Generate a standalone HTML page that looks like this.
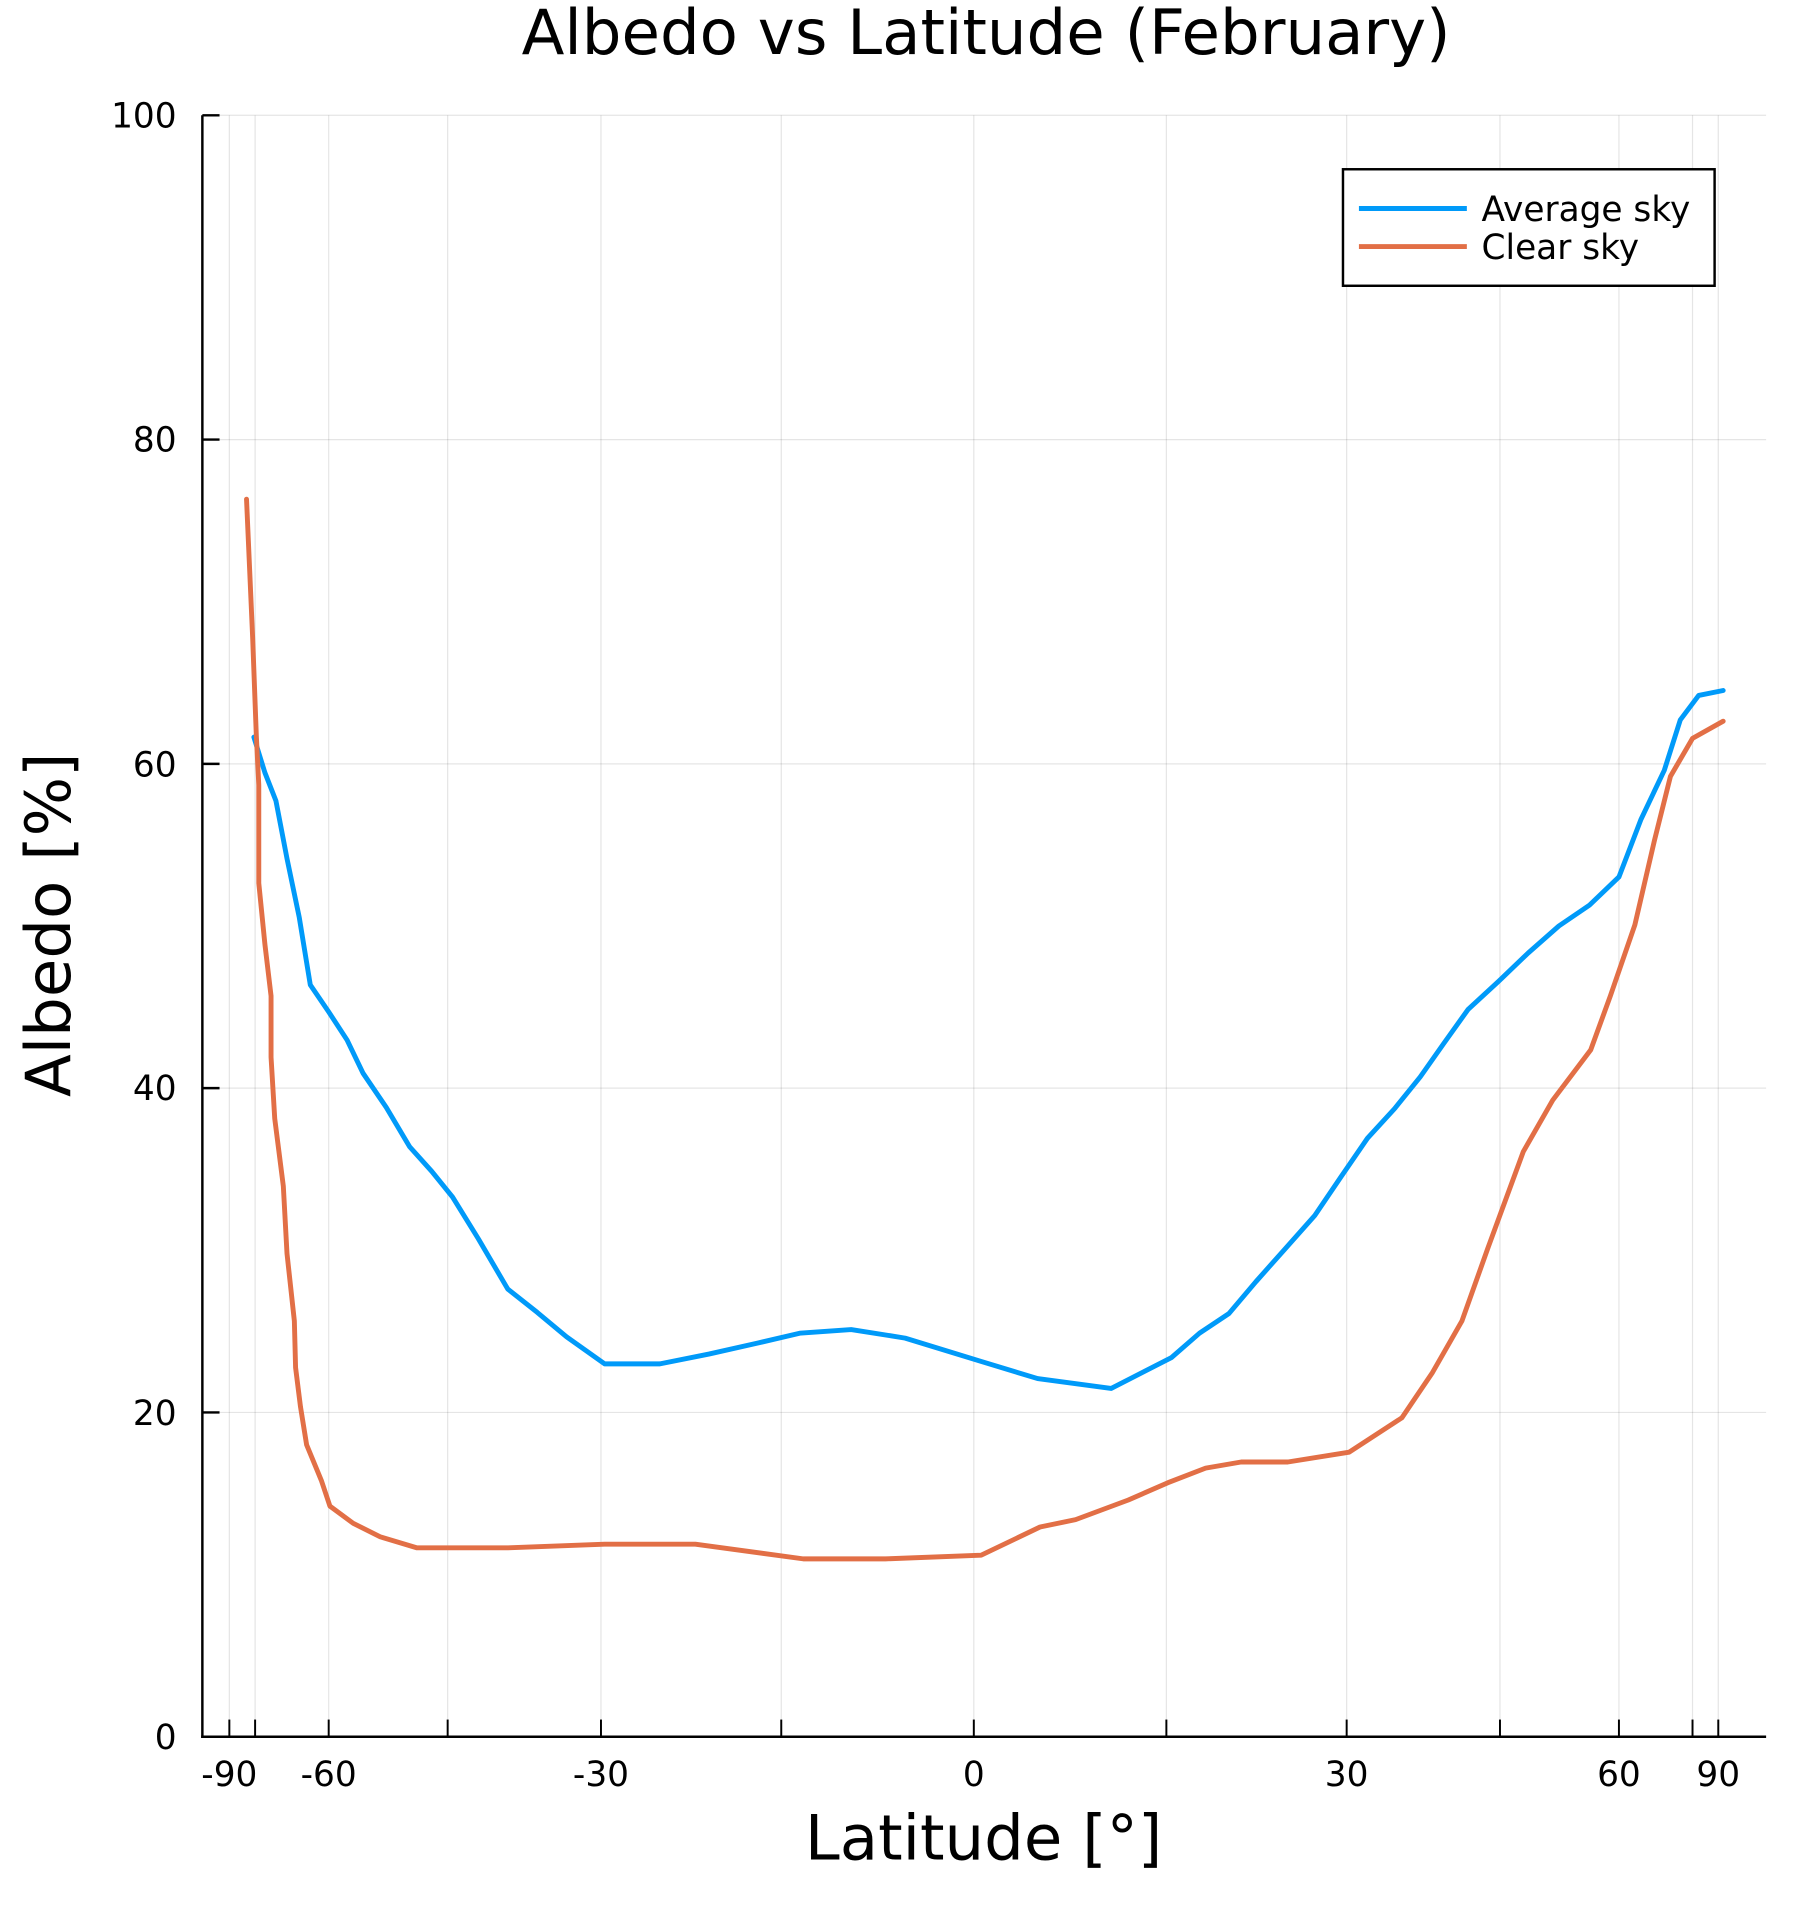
<!DOCTYPE html>
<html><head><style>html,body{margin:0;padding:0;background:#fff}svg{display:block}</style></head>
<body>
<svg width="1798" height="1918" viewBox="0 0 1466 1563.8" preserveAspectRatio="none" xmlns="http://www.w3.org/2000/svg" font-family="DejaVu Sans, Liberation Sans, sans-serif">
<rect width="1466" height="1564" fill="#fff"/>
<g stroke="#000" stroke-opacity="0.1" stroke-width="1">
<line x1="187" y1="94" x2="187" y2="1416"/><line x1="208" y1="94" x2="208" y2="1416"/>
<line x1="268" y1="94" x2="268" y2="1416"/><line x1="365" y1="94" x2="365" y2="1416"/>
<line x1="490" y1="94" x2="490" y2="1416"/><line x1="637" y1="94" x2="637" y2="1416"/>
<line x1="794" y1="94" x2="794" y2="1416"/><line x1="951" y1="94" x2="951" y2="1416"/>
<line x1="1098" y1="94" x2="1098" y2="1416"/><line x1="1223" y1="94" x2="1223" y2="1416"/>
<line x1="1320" y1="94" x2="1320" y2="1416"/><line x1="1380" y1="94" x2="1380" y2="1416"/>
<line x1="1401" y1="94" x2="1401" y2="1416"/>
<line x1="165" y1="94" x2="1440" y2="94"/><line x1="165" y1="358.4" x2="1440" y2="358.4"/>
<line x1="165" y1="622.8" x2="1440" y2="622.8"/><line x1="165" y1="887.2" x2="1440" y2="887.2"/>
<line x1="165" y1="1151.6" x2="1440" y2="1151.6"/>
</g>
<g stroke="#000" stroke-width="2">
<line x1="165" y1="94" x2="165" y2="1417"/><line x1="164" y1="1416" x2="1440" y2="1416"/>
<line x1="165" y1="94" x2="179" y2="94"/><line x1="165" y1="358.4" x2="179" y2="358.4"/>
<line x1="165" y1="622.8" x2="179" y2="622.8"/><line x1="165" y1="887.2" x2="179" y2="887.2"/>
<line x1="165" y1="1151.6" x2="179" y2="1151.6"/>
<g stroke-width="1.6">
<line x1="187" y1="1416" x2="187" y2="1402"/><line x1="208" y1="1416" x2="208" y2="1402"/>
<line x1="268" y1="1416" x2="268" y2="1402"/><line x1="365" y1="1416" x2="365" y2="1402"/>
<line x1="490" y1="1416" x2="490" y2="1402"/><line x1="637" y1="1416" x2="637" y2="1402"/>
<line x1="794" y1="1416" x2="794" y2="1402"/><line x1="951" y1="1416" x2="951" y2="1402"/>
<line x1="1098" y1="1416" x2="1098" y2="1402"/><line x1="1223" y1="1416" x2="1223" y2="1402"/>
<line x1="1320" y1="1416" x2="1320" y2="1402"/><line x1="1380" y1="1416" x2="1380" y2="1402"/>
<line x1="1401" y1="1416" x2="1401" y2="1402"/>
</g></g>
<g font-size="28" text-anchor="end">
<text x="144" y="104">100</text><text x="144" y="368">80</text><text x="144" y="633">60</text>
<text x="144" y="897">40</text><text x="144" y="1162">20</text><text x="144" y="1426">0</text>
</g>
<g font-size="28" text-anchor="middle">
<text x="187" y="1456">-90</text><text x="268" y="1456">-60</text><text x="490" y="1456">-30</text>
<text x="794" y="1456">0</text><text x="1098" y="1456">30</text><text x="1320" y="1456">60</text><text x="1401" y="1456">90</text>
</g>
<text x="804" y="44" font-size="51" text-anchor="middle">Albedo vs Latitude (February)</text>
<text x="802" y="1516" font-size="51" text-anchor="middle">Latitude [°]</text>
<text transform="translate(57,754) rotate(-90)" font-size="51" text-anchor="middle">Albedo [%]</text>
<g fill="none" stroke-width="4" stroke-linejoin="round" stroke-linecap="round">
<polyline stroke="#009af9" points="207,601 216,630 225,653 234,700 244,748 253,803 268,825 283,848 296,875 315,903 334,935 352,955 369,976 390,1010 414,1051 438,1070 462,1090 493,1112 538,1112 578,1104 618,1095 652,1087 694,1084 738,1091 800,1110 846,1124 906,1132 955,1107 978,1087 1002,1071 1024,1045 1048,1018 1072,991 1093,960 1115,928 1137,904 1158,878 1177,851 1197,823 1222,800 1246,777 1271,755 1296,738 1320,715 1338,668 1357,628 1370,587 1385,567 1405,563"/>
<polyline stroke="#e26f46" points="201,407 206,520 209,600 211,640 211,720 216,770 221,812 221,862 224,912 231,967 234,1022 240,1077 241,1115 245,1147 250,1178 262,1207 269,1228 288,1242 310,1253 340,1262 414,1262 493,1259 567,1259 655,1271 722,1271 800,1268 848,1245 877,1239 920,1223 952,1209 983,1197 1012,1192 1050,1192 1100,1184 1143,1156 1168,1119 1192,1077 1213,1018 1242,939 1266,897 1297,856 1313,812 1333,754 1349,685 1362,633 1380,602 1405,588"/>
</g>
<rect x="1095" y="138" width="303" height="95" fill="#fff" stroke="#000" stroke-width="2"/>
<line x1="1108" y1="170" x2="1196" y2="170" stroke="#009af9" stroke-width="4"/>
<line x1="1108" y1="201" x2="1196" y2="201" stroke="#e26f46" stroke-width="4"/>
<g font-size="28"><text x="1208" y="180">Average sky</text><text x="1208" y="211">Clear sky</text></g>
</svg>
</body></html>
